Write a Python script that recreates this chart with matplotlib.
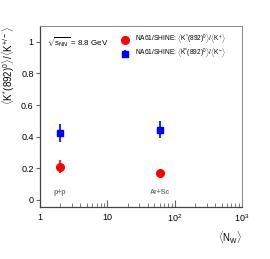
import matplotlib
matplotlib.use("Agg")
import matplotlib.pyplot as plt
from matplotlib.ticker import LogLocator, FixedLocator, NullLocator

plt.rcParams['font.family'] = ['Liberation Sans', 'DejaVu Sans']
plt.rcParams['mathtext.fontset'] = 'custom'
plt.rcParams['mathtext.rm'] = 'Liberation Sans'
plt.rcParams['mathtext.it'] = 'Liberation Sans'
plt.rcParams['mathtext.bf'] = 'Liberation Sans:bold'

# data
systems = ["p+p", "Ar+Sc"]
nw = [2.0, 61.0]
ratio_plus = [0.21, 0.17]
err_plus = [0.04, 0.0]
ratio_minus = [0.42, 0.445]
err_minus = [0.057, 0.055]

fig = plt.figure(figsize=(2.7, 2.59), dpi=100)
ax = fig.add_axes([0.148, 0.2008, 0.748, 0.699])

ax.errorbar(nw, ratio_plus, yerr=err_plus, fmt='o', color='red', ms=5.5,
            elinewidth=1.2, capsize=0,
            label=r'NA61/SHINE: $\langle K^{*}(892)^{0}\rangle/\langle K^{+}\rangle$')
ax.errorbar(nw, ratio_minus, yerr=err_minus, fmt='s', color='blue', ms=5,
            elinewidth=1.2, capsize=0,
            label=r'NA61/SHINE: $\langle \bar{K}^{*}(892)^{0}\rangle/\langle K^{-}\rangle$')

ax.set_xscale('log')
ax.set_xlim(1, 1000)
ax.set_ylim(-0.045, 1.1)
ax.xaxis.set_major_locator(FixedLocator([1, 10, 100, 1000]))
ax.set_xticklabels(['1', '10', r'$10^2$', r'$10^3$'])
ax.xaxis.set_minor_locator(LogLocator(base=10, subs=range(2, 10)))
ax.yaxis.set_major_locator(FixedLocator([0, 0.2, 0.4, 0.6, 0.8, 1.0]))
ax.set_yticklabels(['0', '0.2', '0.4', '0.6', '0.8', '1'])
ax.yaxis.set_minor_locator(NullLocator())

ax.tick_params(axis='x', which='both', direction='in', labelsize=6.5,
               color='#666666', pad=4)
ax.tick_params(axis='x', which='major', length=5)
ax.tick_params(axis='x', which='minor', length=3)
ax.tick_params(axis='y', which='major', direction='out', length=3,
               labelsize=6.5, color='#666666', pad=1.5)
for s in ['left', 'bottom']:
    ax.spines[s].set_color('#444444')
    ax.spines[s].set_linewidth(0.9)
for s in ['top', 'right']:
    ax.spines[s].set_color('#888888')
    ax.spines[s].set_linewidth(0.7)

ax.set_ylabel(r'$\langle K^{*}(892)^{0}\rangle/\langle K^{+/-}\rangle$',
              fontsize=7, loc='top', labelpad=3)
ax.set_xlabel(r'$\langle N_{W}\rangle$', fontsize=7, loc='right', labelpad=4)

for x, name in zip(nw, systems):
    ax.text(x, 0.045, name, fontsize=5, color='#777777', ha='center',
            va='center', fontweight='bold')

ax.text(1.26, 1.0, r'$\sqrt{s_{\rm NN}}$ = 8.8 GeV', fontsize=5.8,
        ha='left', va='center')

ax.legend(loc='upper left', bbox_to_anchor=(0.39, 0.975), frameon=False,
          fontsize=4.8, handletextpad=1.0, labelspacing=0.15,
          borderaxespad=0, handlelength=1.0)

fig.savefig("out.png", dpi=100)
